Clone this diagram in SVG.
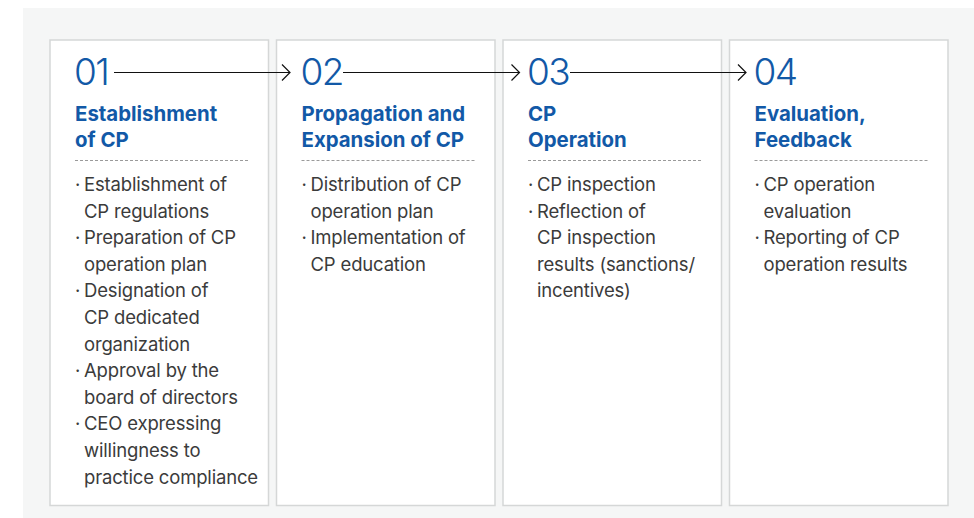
<svg xmlns="http://www.w3.org/2000/svg" width="974" height="518" viewBox="0 0 974 518">
<style>
.panel{fill:#ffffff;stroke:#d5d7d7;stroke-width:1.5}
.num{font-family:Inter,"Noto Sans",sans-serif;font-weight:300;font-size:37px;letter-spacing:-1.5px;fill:#1259a7}
.title{font-family:Inter,"Noto Sans",sans-serif;font-weight:700;font-size:20.4px;fill:#1259a7}
.body{font-family:Inter,"Noto Sans",sans-serif;font-weight:400;font-size:18.5px;letter-spacing:-0.17px;fill:#3b3b3b}
.dash{stroke:#9a9a9a;stroke-width:1;stroke-dasharray:3 2}
.conn{stroke:#111;stroke-width:1.2;fill:none}
</style>
<defs>
<marker id="chev" markerUnits="userSpaceOnUse" markerWidth="12" markerHeight="20" refX="9" refY="9" orient="auto" viewBox="0 0 12 20">
<path d="M1,1 L9,9 L1,17" fill="none" stroke="#111" stroke-width="1.2"/>
</marker>
</defs>
<rect x="23" y="8" width="951" height="510" fill="#f5f6f6"/>
<g id="node1">
<rect class="panel" x="50" y="40" width="218.5" height="465.5"/>
<text class="num" x="74" y="85">01</text>
<text class="title" x="75" y="121">Establishment</text>
<text class="title" x="75" y="146.5">of CP</text>
<line class="dash" x1="75" y1="160.5" x2="249" y2="160.5"/>
<text class="body"><tspan x="75" y="191">·</tspan><tspan x="84" y="191">Establishment of</tspan></text>
<text class="body" x="84" y="217.6">CP regulations</text>
<text class="body"><tspan x="75" y="244.2">·</tspan><tspan x="84" y="244.2">Preparation of CP</tspan></text>
<text class="body" x="84" y="270.8">operation plan</text>
<text class="body"><tspan x="75" y="297.4">·</tspan><tspan x="84" y="297.4">Designation of</tspan></text>
<text class="body" x="84" y="324">CP dedicated</text>
<text class="body" x="84" y="350.6">organization</text>
<text class="body"><tspan x="75" y="377.2">·</tspan><tspan x="84" y="377.2">Approval by the</tspan></text>
<text class="body" x="84" y="403.8">board of directors</text>
<text class="body"><tspan x="75" y="430.4">·</tspan><tspan x="84" y="430.4">CEO expressing</tspan></text>
<text class="body" x="84" y="457">willingness to</text>
<text class="body" x="84" y="483.6">practice compliance</text>
</g>
<g id="node2">
<rect class="panel" x="276.5" y="40" width="218.5" height="465.5"/>
<text class="num" x="300.5" y="85">02</text>
<text class="title" x="301.5" y="121">Propagation and</text>
<text class="title" x="301.5" y="146.5">Expansion of CP</text>
<line class="dash" x1="301.5" y1="160.5" x2="475.5" y2="160.5"/>
<text class="body"><tspan x="301.5" y="191">·</tspan><tspan x="310.5" y="191">Distribution of CP</tspan></text>
<text class="body" x="310.5" y="217.6">operation plan</text>
<text class="body"><tspan x="301.5" y="244.2">·</tspan><tspan x="310.5" y="244.2">Implementation of</tspan></text>
<text class="body" x="310.5" y="270.8">CP education</text>
</g>
<g id="node3">
<rect class="panel" x="503" y="40" width="218.5" height="465.5"/>
<text class="num" x="527" y="85">03</text>
<text class="title" x="528" y="121">CP</text>
<text class="title" x="528" y="146.5">Operation</text>
<line class="dash" x1="528" y1="160.5" x2="702" y2="160.5"/>
<text class="body"><tspan x="528" y="191">·</tspan><tspan x="537" y="191">CP inspection</tspan></text>
<text class="body"><tspan x="528" y="217.6">·</tspan><tspan x="537" y="217.6">Reflection of</tspan></text>
<text class="body" x="537" y="244.2">CP inspection</text>
<text class="body" x="537" y="270.8">results (sanctions/</text>
<text class="body" x="537" y="297.4">incentives)</text>
</g>
<g id="node4">
<rect class="panel" x="729.5" y="40" width="218.5" height="465.5"/>
<text class="num" x="753.5" y="85">04</text>
<text class="title" x="754.5" y="121">Evaluation,</text>
<text class="title" x="754.5" y="146.5">Feedback</text>
<line class="dash" x1="754.5" y1="160.5" x2="928.5" y2="160.5"/>
<text class="body"><tspan x="754.5" y="191">·</tspan><tspan x="763.5" y="191">CP operation</tspan></text>
<text class="body" x="763.5" y="217.6">evaluation</text>
<text class="body"><tspan x="754.5" y="244.2">·</tspan><tspan x="763.5" y="244.2">Reporting of CP</tspan></text>
<text class="body" x="763.5" y="270.8">operation results</text>
</g>
<g id="connectors">
<line class="conn" x1="114" y1="72.5" x2="290" y2="72.5" marker-end="url(#chev)"/>
<line class="conn" x1="343" y1="72.5" x2="519.5" y2="72.5" marker-end="url(#chev)"/>
<line class="conn" x1="570" y1="72.5" x2="746" y2="72.5" marker-end="url(#chev)"/>
</g>
</svg>
